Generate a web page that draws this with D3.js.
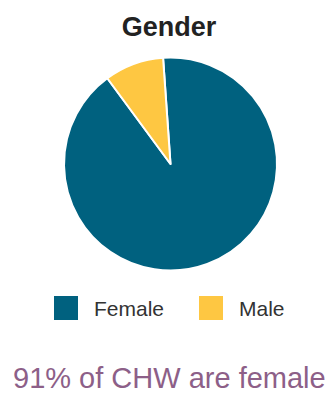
<!DOCTYPE html>
<html>
<head>
<meta charset="utf-8">
<script src="https://cdn.jsdelivr.net/npm/d3@7"></script>
<style>
  body { margin: 0; background: #fff; }
  svg text { font-family: "Liberation Sans", Arial, sans-serif; }
</style>
</head>
<body>
<svg id="chart" width="329" height="394"></svg>
<script>
// data
var categories = ["Female", "Male"];
var values = [91, 9];
var colors = ["#00617f", "#fec742"];
var title = "Gender";
var note = "91% of CHW are female";

var svg = d3.select("#chart");
var W = 329;

// title
svg.append("text")
  .attr("x", 169).attr("y", 36)
  .attr("text-anchor", "middle")
  .style("font-size", "27px").style("font-weight", "bold")
  .style("fill", "#222")
  .text(title);

// pie
var rad = 106.5;
var g = svg.append("g").attr("transform", "translate(170.5,164)");

var pie = d3.pie().sort(null)
  .startAngle(-4 * Math.PI / 180)
  .endAngle(356 * Math.PI / 180);
var arc = d3.arc().innerRadius(0).outerRadius(rad);

g.selectAll("path")
  .data(pie(values))
  .enter().append("path")
  .attr("d", arc)
  .attr("fill", function(d, i){ return colors[i]; })
  .attr("stroke", "#fff")
  .attr("stroke-width", 2)
  .attr("stroke-linejoin", "round");

// legend
var lx = d3.scaleOrdinal().domain(categories).range([54, 199]);
var leg = svg.selectAll(".leg")
  .data(categories)
  .enter().append("g")
  .attr("class", "leg")
  .attr("transform", function(d){ return "translate(" + lx(d) + ",296)"; });

leg.append("rect")
  .attr("width", 24).attr("height", 24)
  .attr("fill", function(d, i){ return colors[i]; });

leg.append("text")
  .attr("x", 40).attr("y", 19.5)
  .style("font-size", "21px")
  .style("fill", "#333")
  .text(function(d){ return d; });

// footer note
svg.append("text")
  .attr("x", 13).attr("y", 388)
  .style("font-size", "29px")
  .style("fill", "#8d5f88")
  .text(note);
</script>
</body>
</html>
